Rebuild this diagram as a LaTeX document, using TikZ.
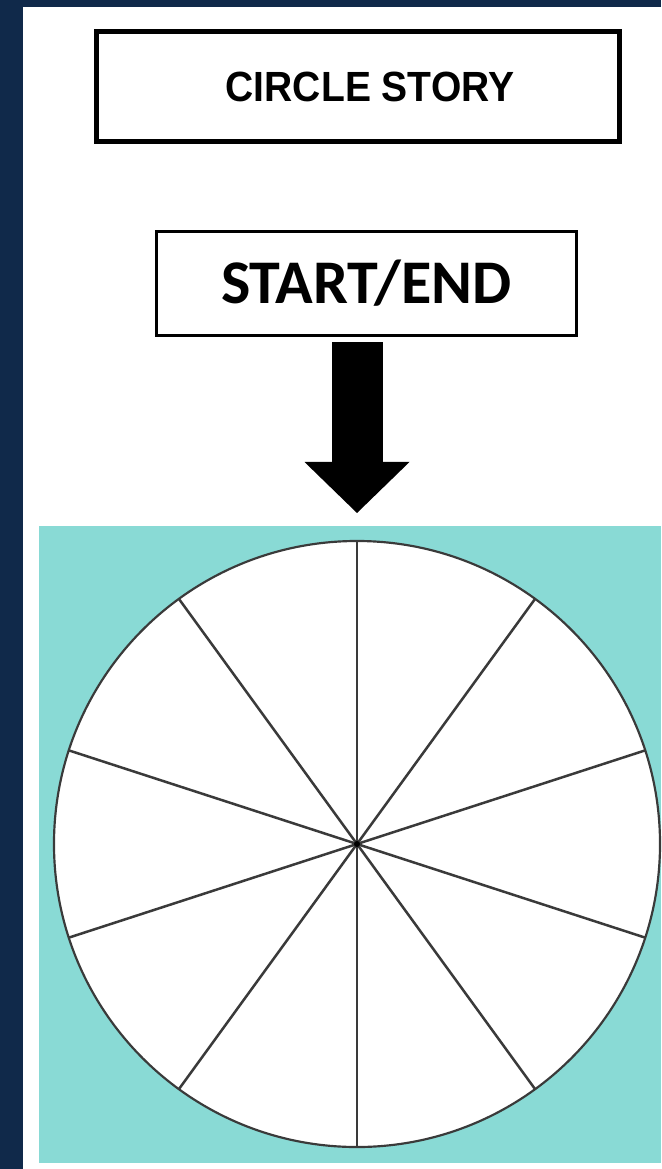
\documentclass[tikz,border=0pt]{standalone}
\usepackage{fontspec}
\setmainfont{Liberation Sans}
\newfontfamily\carlito{Carlito}
\usetikzlibrary{arrows.meta,calc}
\definecolor{framenavy}{HTML}{10294A}
\definecolor{wheelteal}{HTML}{89DAD5}
\definecolor{spokegray}{HTML}{3A3A3A}

\begin{document}
\begin{tikzpicture}[x=0.03cm, y=-0.03cm,
    titlebox/.style={draw=black, line width=0.16cm, fill=white, minimum width=15.69cm, minimum height=3.3cm, inner sep=0pt},
    startbox/.style={draw=black, line width=0.09cm, fill=white, minimum width=12.6cm, minimum height=3.12cm, inner sep=0pt},
    blockarrow/.style={line width=1.53cm, -{Triangle[width=3.15cm, length=1.53cm, line width=0pt]}},
    spoke/.style={spokegray, line width=0.075cm}]

  \useasboundingbox (0, 0) rectangle (661, 1169);

  % Page background and navy frame
  \fill[white] (0, 0) rectangle (661, 1169);
  \fill[framenavy] (0, 0) rectangle (23, 1169);
  \fill[framenavy] (0, 0) rectangle (661, 7);

  % Title
  \node[titlebox, font=\bfseries\fontsize{34}{40}\selectfont] (title) at (358, 86.5) {\hspace*{0.72cm}\scalebox{0.98}[1.06]{CIRCLE STORY}};

  % Start / end label
  \node[startbox, font=\carlito\bfseries\fontsize{53}{60}\selectfont] (startend) at (366.5, 283.5) {START/END};

  % Teal panel behind the wheel
  \fill[wheelteal] (39, 526) rectangle (661, 1163);

  % Wheel with ten spokes
  \node[draw=spokegray, fill=white, circle, line width=0.065cm, minimum size=18.18cm, outer sep=0pt, inner sep=0pt] (wheel) at (357, 844) {};
  \foreach \a in {18, 54, ..., 342} {
    \draw[spoke] (wheel.center) -- (wheel.\a);
  }
  \fill[black] (wheel.center) circle (3);

  % Arrow into the wheel
  \coordinate (arrowtail) at ($(startend.south -| wheel.north) + (0, 5)$);
  \coordinate (arrowtip) at ($(wheel.north) + (0, -28)$);
  \draw[blockarrow] (arrowtail) -- (arrowtip);

\end{tikzpicture}
\end{document}
